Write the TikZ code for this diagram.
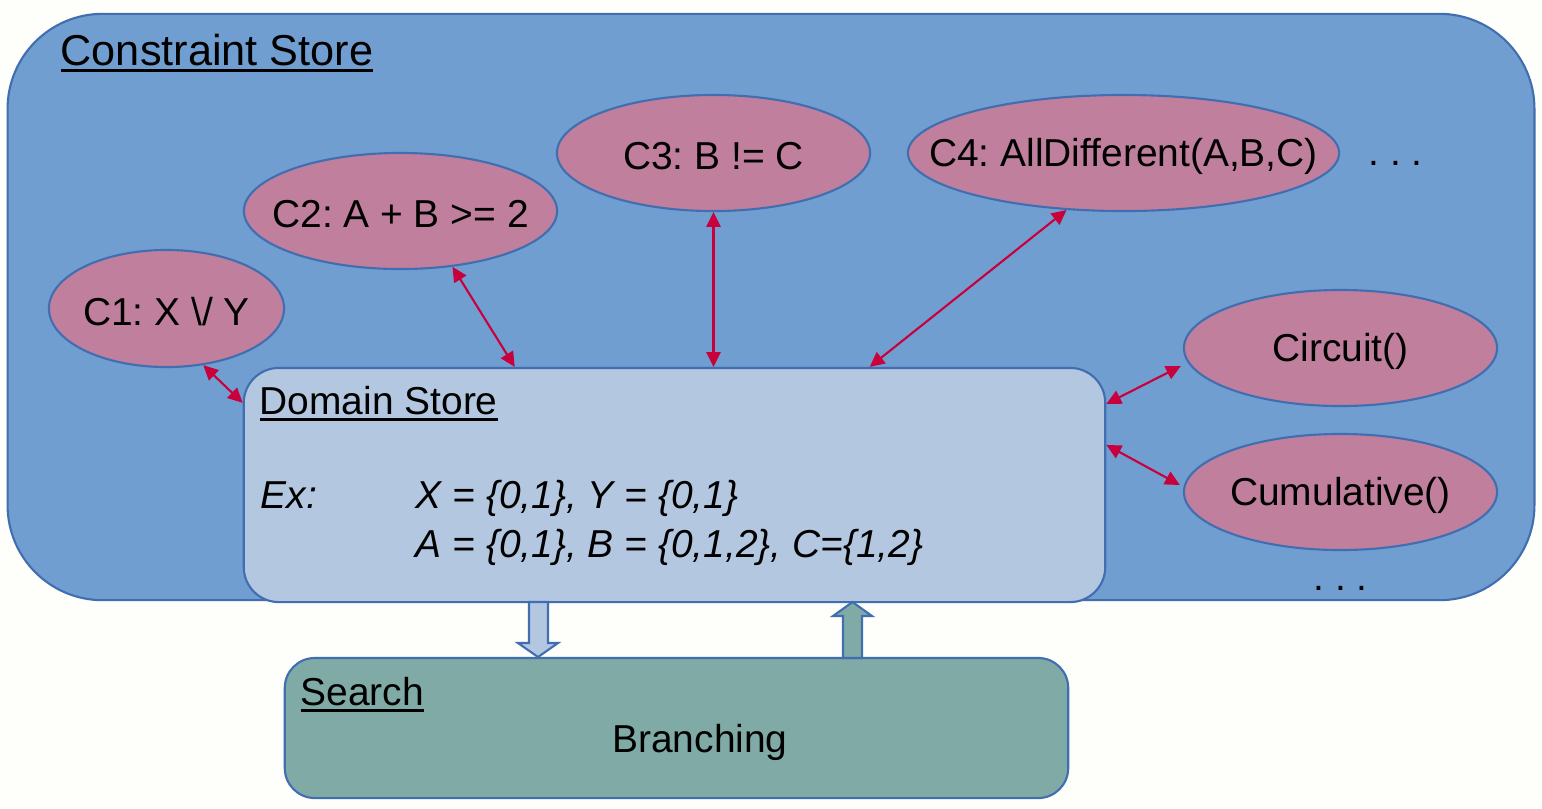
\documentclass[tikz,border=0pt]{standalone}
\usepackage{fontspec}
\setmainfont{Liberation Sans}
\frenchspacing
\usetikzlibrary{shapes.geometric,arrows.meta,calc}
\definecolor{bgc}{RGB}{254,254,250}
\definecolor{outerfill}{RGB}{113,158,208}
\definecolor{bordc}{RGB}{65,110,176}
\definecolor{ellfill}{RGB}{192,128,157}
\definecolor{domfill}{RGB}{180,199,224}
\definecolor{srchfill}{RGB}{127,170,165}
\definecolor{arrowred}{RGB}{200,0,60}
\newcommand\myul[1]{\sbox0{#1}\rlap{\rule[-2pt]{\wd0}{0.75pt}}\usebox0}
\newcommand\normf{\fontsize{11.07pt}{13pt}\selectfont}
\newcommand\bigf{\fontsize{12.3pt}{14pt}\selectfont}
\tikzset{
  ell/.style={ellipse, draw=bordc, line width=0.6pt, fill=ellfill, inner sep=0pt, minimum height=1.16cm},
  elltext/.style={label={[font=\normf, inner sep=0pt, yshift=-1pt]center:#1}},
  txt/.style={anchor=base west, inner sep=0pt, font=\normf},
  conn/.style={draw=arrowred, line width=0.6pt, {Triangle[length=4.2pt,width=4pt]}-{Triangle[length=4.2pt,width=4pt]}},
  blockbox/.style={draw=bordc, line width=0.6pt, inner sep=0pt}
}
\begin{document}
\begin{tikzpicture}[x=0.01cm,y=-0.01cm]
\fill[bgc] (0,0) rectangle (1542,808);
\useasboundingbox (0,0) rectangle (1542,808);
% outer constraint store
\node[blockbox, fill=outerfill, rounded corners=0.95cm, minimum width=15.26cm, minimum height=5.86cm] (cs) at (771,307) {};
\node[txt, font=\bigf] (tcs) at (60,65) {\myul{Constraint Store}};
% domain store
\node[blockbox, fill=domfill, rounded corners=0.35cm, minimum width=8.61cm, minimum height=2.34cm] (dom) at (674.5,485) {};
% search
\node[blockbox, fill=srchfill, rounded corners=0.3cm, minimum width=7.83cm, minimum height=1.40cm] (srch) at (676.5,728) {};
% ellipses
\node[ell, minimum width=2.35cm, minimum height=1.17cm, elltext={C1: X \textbackslash/ Y}] (c1) at (166.5,308.5) {};
\node[ell, minimum width=3.13cm, elltext={C2: A + B >= 2}] (c2) at (400.5,211) {};
\node[ell, minimum width=3.13cm, elltext={C3: B != C}] (c3) at (713.5,153) {};
\node[ell, minimum width=4.31cm, elltext={C4: AllDifferent(A,B,C)}] (c4) at (1123.5,153) {};
\node[ell, minimum width=3.13cm, elltext={Circuit()}] (cir) at (1340.5,348) {};
\node[ell, minimum width=3.13cm, elltext={Cumulative()}] (cum) at (1340.5,492) {};
\node[txt] (dots1) at (1368,165) {. . .};
\node[txt] (dots2) at (1313,590) {. . .};
% domain texts
\node[txt] (tds) at (259,414) {\myul{Domain Store}};
\node[txt] (tex) at (260,508) {\itshape Ex:};
\node[txt] (tl1) at (415,508) {\itshape X = \{0,1\}, Y = \{0,1\}};
\node[txt] (tl2) at (415,557) {\itshape A = \{0,1\}, B = \{0,1,2\}, C=\{1,2\}};
% search texts
\node[txt] (tse) at (300,705) {\myul{Search}};
\node[txt, anchor=base] (tbr) at (700,752) {Branching};
% connectors
\draw[conn] (c1.-57) -- ($(dom.north west)+(0,36)$);
\draw[conn] (c2.-47) -- ($(dom.north west)+(272,0)$);
\draw[conn] (c3.south) -- (c3.south |- dom.north);
\draw[conn] (c4.-135) -- ($(dom.north west)+(627,0)$);
\draw[conn] ($(cir.west)+(-2,18)$) -- ($(dom.north east)+(0,37)$);
\draw[conn] ($(cum.west)+(-3,-7)$) -- ($(dom.north east)+(0,78)$);
% block arrows
\draw[draw=bordc, line width=0.6pt, fill=domfill, line join=miter] (529,602) -- (548,602) -- (548,643) -- (558,643) -- (538,657) -- (518,643) -- (529,643) -- cycle;
\draw[draw=bordc, line width=0.6pt, fill=srchfill, line join=miter] (843,658) -- (843,616) -- (833,616) -- (852.5,602) -- (872,616) -- (862,616) -- (862,658) -- cycle;
\end{tikzpicture}
\end{document}
